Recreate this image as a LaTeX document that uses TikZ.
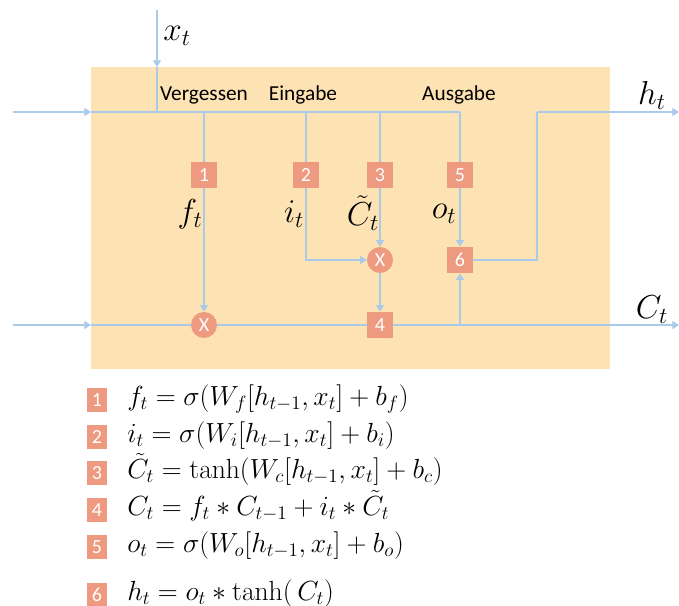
\documentclass[tikz,border=0pt]{standalone}
\usepackage{amsmath}
\usepackage[no-math]{fontspec}
\setmainfont{Carlito}
\usetikzlibrary{arrows.meta}
\definecolor{cellbg}{HTML}{FDE2B4}
\definecolor{gatecol}{HTML}{EE9A80}
\definecolor{wirecol}{HTML}{A9CAE8}
\tikzset{
  wire/.style={draw=wirecol, line width=0.9pt},
  arr/.style={-{Triangle[width=6pt,length=5pt]}},
  gatebox/.style={fill=gatecol, text=white, minimum width=19.5pt, minimum height=19.5pt, inner sep=0pt, font=\fontsize{15}{17}\selectfont},
  eqbox/.style={fill=gatecol, text=white, minimum width=15pt, minimum height=18pt, inner sep=0pt, font=\fontsize{15}{17}\selectfont},
  mult/.style={circle, fill=gatecol, text=white, minimum size=19.5pt, inner sep=0pt, font=\fontsize{15}{17}\selectfont},
  gatelabel/.style={font=\fontsize{16}{19}\selectfont, text=black},
  biglabel/.style={font=\fontsize{23}{27}\selectfont, inner sep=0pt},
  eqtext/.style={anchor=west, font=\fontsize{19.5}{22}\selectfont, inner sep=0pt, text height=11pt, text depth=3pt}
}
\begin{document}
\begin{tikzpicture}[x=0.75pt,y=-0.75pt]
\useasboundingbox (0,0) rectangle (679,606);
\clip (0,0) rectangle (679,606);
\fill[cellbg] (91,67) rectangle (610,369);

% coordinates
\coordinate (xin) at (157,10);
\coordinate (xtop) at (157,67);
\coordinate (xj) at (157,112);
\coordinate (hin) at (13,112);
\coordinate (hleft) at (91,112);
\coordinate (hend) at (460,112);
\coordinate (hturn) at (537,112);
\coordinate (hout) at (679,112);
\coordinate (cin) at (13,325);
\coordinate (cleft) at (91,325);
\coordinate (cj) at (460,325);
\coordinate (cout) at (679,325);

% gate nodes
\node[gatebox] (g1) at (204,175) {1};
\node[gatebox] (g2) at (306,175) {2};
\node[gatebox] (g3) at (380,175) {3};
\node[gatebox] (g5) at (460,175) {5};
\node[mult] (m2) at (380,260) {X};
\node[gatebox] (g6) at (460,260) {6};
\node[mult] (m1) at (204,325) {X};
\node[gatebox] (g4) at (380,325) {4};

% labels
\node[gatelabel] (lv) at (204,95) {Vergessen};
\node[gatelabel] (le) at (303,95) {Eingabe};
\node[gatelabel] (la) at (459,95) {Ausgabe};
\node[biglabel] (lx) at (177,36) {$x_t$};
\node[biglabel] (lh) at (652,95) {$h_t$};
\node[biglabel] (lc) at (652,310) {$C_t$};
\node[biglabel] (lf) at (190,214) {$f_t$};
\node[biglabel] (li) at (294,214) {$i_t$};
\node[biglabel] (lct) at (363,213) {$\tilde{C}_t$};
\node[biglabel] (lo) at (444,214) {$o_t$};

% wires
\draw[wire,arr] (xin) -- (xtop);
\draw[wire] (xtop) -- (xj);
\draw[wire,arr] (hin) -- (hleft);
\draw[wire] (hleft) -- (hend);
\draw[wire] (g1 |- hleft) -- (g1.north);
\draw[wire] (g2 |- hleft) -- (g2.north);
\draw[wire] (g3 |- hleft) -- (g3.north);
\draw[wire] (hend) -- (g5.north);
\draw[wire,arr] (g1.south) -- (m1.north);
\draw[wire,arr] (g2.south) |- (m2.west);
\draw[wire,arr] (g3.south) -- (m2.north);
\draw[wire,arr] (m2.south) -- (g4.north);
\draw[wire,arr] (g5.south) -- (g6.north);
\draw[wire,arr] (cj) -- (g6.south);
\draw[wire] (g6.east) -| (hturn);
\draw[wire,arr] (hturn) -- (hout);
\draw[wire,arr] (cin) -- (cleft);
\draw[wire] (cleft) -- (m1.west);
\draw[wire] (m1.east) -- (g4.west);
\draw[wire,arr] (g4.east) -- (cout);

% equations
\node[eqbox] (e1) at (97,400) {1};
\node[eqbox] (e2) at (97,437) {2};
\node[eqbox] (e3) at (97,473) {3};
\node[eqbox] (e4) at (97,510) {4};
\node[eqbox] (e5) at (97,547) {5};
\node[eqbox] (e6) at (97,595) {6};
\node[eqtext] (t1) at (127,400) {$f_t = \sigma(W_f[h_{t-1},x_t]+b_f)$};
\node[eqtext] (t2) at (127,437) {$i_t = \sigma(W_i[h_{t-1},x_t]+b_i)$};
\node[eqtext] (t3) at (127,473) {$\tilde{C}_t = \tanh(W_c[h_{t-1},x_t]+b_c)$};
\node[eqtext] (t4) at (127,510) {$C_t = f_t * C_{t-1} + i_t * \tilde{C}_t$};
\node[eqtext] (t5) at (127,547) {$o_t = \sigma(W_o[h_{t-1},x_t]+b_o)$};
\node[eqtext] (t6) at (127,595) {$h_t = o_t * \tanh(\,C_t)$};
\end{tikzpicture}
\end{document}
